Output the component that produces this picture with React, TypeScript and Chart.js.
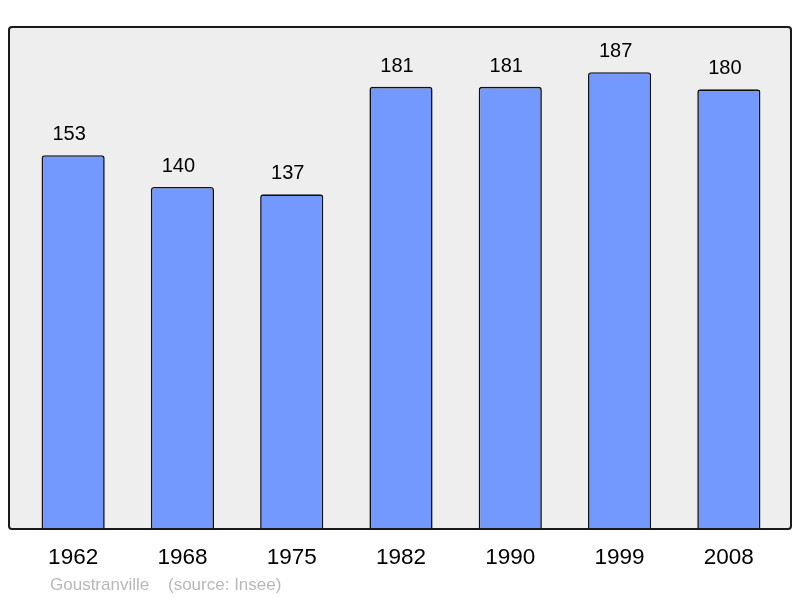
import React, { useEffect, useRef } from "react";
import { Chart, registerables } from "chart.js";

Chart.register(...registerables);

const categories = ["1962", "1968", "1975", "1982", "1990", "1999", "2008"];
const populationValues = [153, 140, 137, 181, 181, 187, 180];
const footerPlace = "Goustranville";
const footerSource = "(source: Insee)";

const FONT = "'Liberation Sans', Arial, sans-serif";

const framePlugin = {
  id: "frame",
  beforeDatasetsDraw(chart: any) {
    const { ctx, chartArea } = chart;
    const x = chartArea.left - 9.5;
    const y = chartArea.top;
    const w = chartArea.right - chartArea.left + 17;
    const h = chartArea.bottom - chartArea.top;
    ctx.save();
    ctx.beginPath();
    ctx.roundRect(x, y, w, h, 3);
    ctx.fillStyle = "#eeeeee";
    ctx.fill();
    ctx.restore();
  },
  afterDatasetsDraw(chart: any) {
    const { ctx, chartArea } = chart;
    const x = chartArea.left - 9.5;
    const y = chartArea.top;
    const w = chartArea.right - chartArea.left + 17;
    const h = chartArea.bottom - chartArea.top;
    ctx.save();
    ctx.beginPath();
    ctx.roundRect(x, y, w, h, 3);
    ctx.lineWidth = 2;
    ctx.strokeStyle = "#1a1a1a";
    ctx.stroke();

    // value labels
    const meta = chart.getDatasetMeta(0);
    ctx.fillStyle = "#000000";
    ctx.font = `20px ${FONT}`;
    ctx.textAlign = "center";
    ctx.textBaseline = "alphabetic";
    meta.data.forEach((bar: any, i: number) => {
      ctx.fillText(String(populationValues[i]), bar.x - 4, bar.y - 15);
    });

    // footer
    ctx.fillStyle = "#b8b8b8";
    ctx.font = `17px ${FONT}`;
    ctx.textAlign = "left";
    ctx.fillText(footerPlace, 50, 590);
    ctx.fillText(footerSource, 168, 590);
    ctx.restore();
  },
};

export default function App() {
  const canvasRef = useRef<HTMLCanvasElement | null>(null);

  useEffect(() => {
    if (!canvasRef.current) return;
    const chart = new Chart(canvasRef.current, {
      type: "bar",
      data: {
        labels: categories,
        datasets: [
          {
            data: populationValues,
            backgroundColor: "#7399ff",
            borderColor: "#111111",
            borderWidth: 1.6,
            borderRadius: 3,
            borderSkipped: "start",
            categoryPercentage: 1,
            barPercentage: 0.578,
          },
        ],
      },
      options: {
        animation: false,
        responsive: false,
        maintainAspectRatio: false,
        layout: { padding: { left: 18.5, right: 16.5, top: 27, bottom: 0 } },
        plugins: {
          legend: { display: false },
          tooltip: { enabled: false },
          title: { display: false },
        },
        scales: {
          x: {
            grid: { display: false, drawTicks: false },
            border: { display: false },
            ticks: {
              color: "#000000",
              font: { family: FONT, size: 22.5 },
              padding: 15,
              maxRotation: 0,
            },
            afterFit(scale: any) {
              scale.height = 69;
            },
          },
          y: {
            display: false,
            min: 0,
            max: 205.5,
          },
        },
      },
      plugins: [framePlugin],
    });
    return () => chart.destroy();
  }, []);

  return (
    <div style={{ position: "fixed", left: 0, top: 0, width: 800, height: 598, background: "#ffffff" }}>
      <canvas ref={canvasRef} width={800} height={598} style={{ width: 800, height: 598, display: "block" }} />
    </div>
  );
}
